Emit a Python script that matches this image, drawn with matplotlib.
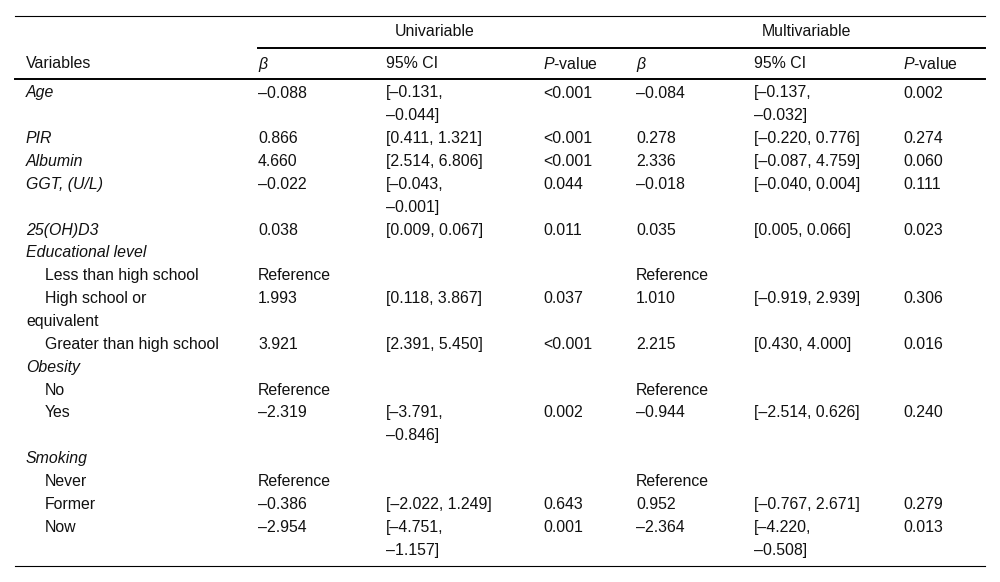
import matplotlib
matplotlib.use("Agg")
import matplotlib.pyplot as plt

plt.rcParams["font.family"] = ["Liberation Sans", "DejaVu Sans"]
plt.rcParams["mathtext.fontset"] = "custom"
plt.rcParams["mathtext.rm"] = "Liberation Sans"
plt.rcParams["mathtext.it"] = "Liberation Sans:italic"

D = "\u2013"

# table content
groups = ["Univariable", "Multivariable"]
col_headers = ["Variables", "β", "95% CI", "$\\mathit{P}$-value", "β", "95% CI", "$\\mathit{P}$-value"]

labels = ["Age", "PIR", "Albumin", "GGT, (U/L)", "25(OH)D3",
          "Educational level", "Less than high school", "High school or\nequivalent",
          "Greater than high school", "Obesity", "No", "Yes",
          "Smoking", "Never", "Former", "Now"]
# 0 = italic variable, 1 = indented category
kinds = [0, 0, 0, 0, 0, 0, 1, 1, 1, 0, 1, 1, 0, 1, 1, 1]

uni_beta = [D + "0.088", "0.866", "4.660", D + "0.022", "0.038", "", "Reference", "1.993",
            "3.921", "", "Reference", D + "2.319", "", "Reference", D + "0.386", D + "2.954"]
uni_ci = ["[–0.131, –0.044]", "[0.411, 1.321]", "[2.514, 6.806]", "[–0.043, –0.001]",
          "[0.009, 0.067]", "", "", "[0.118, 3.867]", "[2.391, 5.450]", "", "",
          "[–3.791, –0.846]", "", "", "[–2.022, 1.249]", "[–4.751, –1.157]"]
uni_p = ["<0.001", "<0.001", "<0.001", "0.044", "0.011", "", "", "0.037", "<0.001", "", "",
         "0.002", "", "", "0.643", "0.001"]

multi_beta = [D + "0.084", "0.278", "2.336", D + "0.018", "0.035", "", "Reference", "1.010",
              "2.215", "", "Reference", D + "0.944", "", "Reference", "0.952", D + "2.364"]
multi_ci = ["[–0.137, –0.032]", "[–0.220, 0.776]", "[–0.087, 4.759]", "[–0.040, 0.004]",
            "[0.005, 0.066]", "", "", "[–0.919, 2.939]", "[0.430, 4.000]", "", "",
            "[–2.514, 0.626]", "", "", "[–0.767, 2.671]", "[–4.220, –0.508]"]
multi_p = ["0.002", "0.274", "0.060", "0.111", "0.023", "", "", "0.306", "0.016", "", "",
           "0.240", "", "", "0.279", "0.013"]


def wrap_ci(s):
    if len(s) > 15:
        return s.replace(", ", ",\n")
    return s


fig = plt.figure(figsize=(10, 5.82), dpi=100)
ax = fig.add_axes([0, 0, 1, 1])
ax.set_xlim(0, 1000)
ax.set_ylim(582, 0)
ax.axis("off")

fs = 11.4
col_x = [26, 258, 386, 543, 636, 754, 903]
line_h = 22.85
ink = "#111111"

# rules
ax.plot([15, 985], [15.5, 15.5], color="black", lw=0.8)
ax.plot([258, 985], [48, 48], color="black", lw=1.4)
ax.plot([15, 985], [79, 79], color="black", lw=1.4)
ax.plot([15, 985], [566, 566], color="black", lw=0.8)

ax.text(435, 31, groups[0], fontsize=fs, ha="center", va="center", color=ink)
ax.text(806, 31, groups[1], fontsize=fs, ha="center", va="center", color=ink)
for x, h in zip(col_x, col_headers):
    st = "italic" if h == "β" else "normal"
    ax.text(x, 64, h, fontsize=fs, ha="left", va="center", color=ink, style=st)

y = 93
for i, lab in enumerate(labels):
    cells = [uni_beta[i], wrap_ci(uni_ci[i]), uni_p[i],
             multi_beta[i], wrap_ci(multi_ci[i]), multi_p[i]]
    if kinds[i] == 0:
        ax.text(col_x[0], y, lab, fontsize=fs, style="italic", ha="left", va="center", color=ink)
    else:
        parts = lab.split("\n")
        ax.text(45, y, parts[0], fontsize=fs, ha="left", va="center", color=ink)
        for k, p in enumerate(parts[1:], start=1):
            ax.text(col_x[0], y + k * line_h, p, fontsize=fs, ha="left", va="center", color=ink)
    n_lines = lab.count("\n") + 1
    for x, c in zip(col_x[1:], cells):
        for k, p in enumerate(c.split("\n")):
            if p:
                ax.text(x, y + k * line_h, p, fontsize=fs, ha="left", va="center", color=ink)
        n_lines = max(n_lines, c.count("\n") + 1)
    y += n_lines * line_h

fig.savefig("out.png", dpi=100)
